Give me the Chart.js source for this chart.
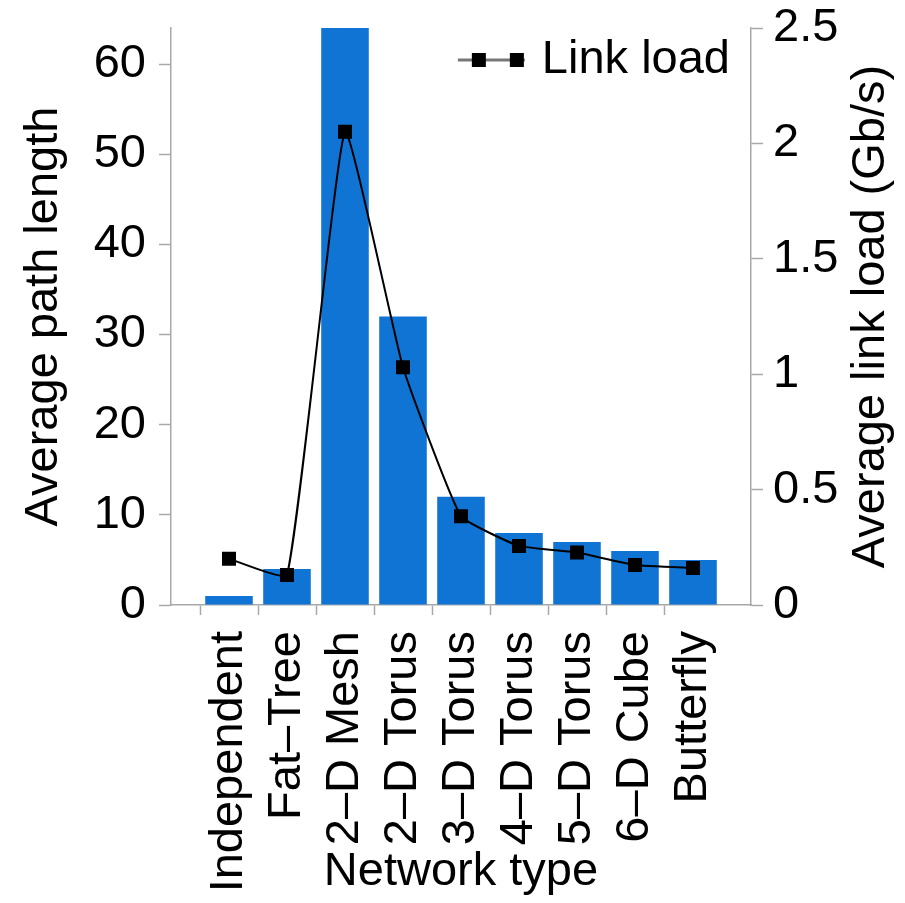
<!DOCTYPE html>
<html>
<head>
<meta charset="utf-8">
<script src="https://cdn.jsdelivr.net/npm/chart.js@4/dist/chart.umd.min.js"></script>
<style>
  html, body { margin: 0; padding: 0; background: #fff; }
  #wrap { width: 905px; height: 903px; }
</style>
</head>
<body>
<div id="wrap"><canvas id="c" width="905" height="903"></canvas></div>
<script>
const categories = ['Independent', 'Fat\u2013Tree', '2\u2013D Mesh', '2\u2013D Torus', '3\u2013D Torus', '4\u2013D Torus', '5\u2013D Torus', '6\u2013D Cube', 'Butterfly'];
const pathLength = [1, 4, 64, 32, 12, 8, 7, 6, 5];
const linkLoad = [0.20, 0.13, 2.05, 1.03, 0.385, 0.256, 0.227, 0.173, 0.16];
const leftTicks = [0, 10, 20, 30, 40, 50, 60];
const rightTicks = [0, 0.5, 1, 1.5, 2, 2.5];
const legendLabel = 'Link load';
const rightTitle = 'Average link load (Gb/s)';

const FONT = 'Liberation Sans, Arial, Helvetica, sans-serif';
const FS = 47;
const AXIS = '#a8a8a8';
const BLUE = '#0f74d4';

// pad categories with an empty slot on each side (axis runs 0..10)
const labels = [''].concat(categories, ['']);
const barData = [null].concat(pathLength, [null]);
const lineData = [null].concat(linkLoad, [null]);
const lastIdx = labels.length - 1;

const extrasPlugin = {
  id: 'extras',
  afterDraw(chart) {
    const ctx = chart.ctx, a = chart.chartArea;
    ctx.save();
    ctx.font = FS + 'px ' + FONT;
    ctx.textBaseline = 'middle';
    // legend
    ctx.textAlign = 'right';
    const ty = a.top + 32;
    const tx = a.right - 21;
    ctx.fillStyle = '#000';
    ctx.fillText(legendLabel, tx, ty);
    const w = ctx.measureText(legendLabel).width;
    const x1 = tx - w - 17, x0 = x1 - 67;
    ctx.strokeStyle = '#777';
    ctx.lineWidth = 3;
    ctx.beginPath(); ctx.moveTo(x0, ty); ctx.lineTo(x1, ty); ctx.stroke();
    ctx.fillStyle = '#000';
    [x0 + 21, x1 - 8].forEach(px => ctx.fillRect(px - 7, ty - 7, 14, 14));
    // right axis title, reading bottom-to-top
    const r = chart.scales.y1;
    ctx.translate(r.right - 34, (a.top + a.bottom) / 2);
    ctx.rotate(-Math.PI / 2);
    ctx.textAlign = 'center';
    ctx.fillText(rightTitle, 0, 0);
    ctx.restore();
  }
};

new Chart(document.getElementById('c'), {
  type: 'bar',
  data: {
    labels: labels,
    datasets: [
      {
        type: 'line',
        label: legendLabel,
        data: lineData,
        yAxisID: 'y1',
        borderColor: '#000',
        backgroundColor: '#000',
        borderWidth: 2,
        pointStyle: 'rect',
        pointRadius: 8.5,
        pointHoverRadius: 8.5,
        tension: 0.12,
        order: 0
      },
      {
        type: 'bar',
        label: 'Average path length',
        data: barData,
        yAxisID: 'y',
        backgroundColor: BLUE,
        borderWidth: 0,
        categoryPercentage: 0.82,
        barPercentage: 1.0,
        order: 1
      }
    ]
  },
  options: {
    responsive: false,
    animation: false,
    devicePixelRatio: 1,
    layout: { padding: { top: 28, left: 0, right: 0, bottom: 0 } },
    plugins: { legend: { display: false }, tooltip: { enabled: false } },
    scales: {
      x: {
        type: 'category',
        offset: false,
        grid: {
          drawOnChartArea: false, drawTicks: true, tickLength: 10, tickWidth: 1.5,
          tickColor: ctx => (ctx.index === 0 || ctx.index === lastIdx) ? 'rgba(0,0,0,0)' : AXIS
        },
        border: { display: true, color: AXIS, width: 1.5 },
        ticks: {
          autoSkip: false, minRotation: 90, maxRotation: 90, padding: 16,
          color: '#000', font: { family: FONT, size: FS, lineHeight: 1 }
        },
        title: {
          display: true, text: 'Network type', color: '#000',
          font: { family: FONT, size: FS, lineHeight: 1 },
          padding: { top: 0, bottom: 7 }
        },
        afterFit(s) { s.height = 298; s.paddingLeft = 0; s.paddingRight = 0; }
      },
      y: {
        position: 'left',
        min: 0, max: 64,
        afterBuildTicks(s) { s.ticks = leftTicks.map(v => ({ value: v })); },
        grid: { drawOnChartArea: false, drawTicks: true, tickLength: 12, tickWidth: 1.5, tickColor: AXIS },
        border: { display: true, color: AXIS, width: 1.5 },
        ticks: { padding: 13, color: '#000', font: { family: FONT, size: FS, lineHeight: 1 } },
        title: {
          display: true, text: 'Average path length', color: '#000',
          font: { family: FONT, size: FS, lineHeight: 1 },
          padding: { top: 21, bottom: 0 }
        },
        afterFit(s) { s.width = 171; s.paddingTop = 0; s.paddingBottom = 0; }
      },
      y1: {
        position: 'right',
        min: 0, max: 2.5,
        afterBuildTicks(s) { s.ticks = rightTicks.map(v => ({ value: v })); },
        grid: { drawOnChartArea: false, drawTicks: true, tickLength: 12, tickWidth: 1.5, tickColor: AXIS },
        border: { display: true, color: AXIS, width: 1.5 },
        ticks: {
          padding: 10, color: '#000', font: { family: FONT, size: FS, lineHeight: 1 },
          callback: v => String(v)
        },
        title: { display: false },
        afterFit(s) { s.width = 154; s.paddingTop = 0; s.paddingBottom = 0; }
      }
    }
  },
  plugins: [extrasPlugin]
});
</script>
</body>
</html>
